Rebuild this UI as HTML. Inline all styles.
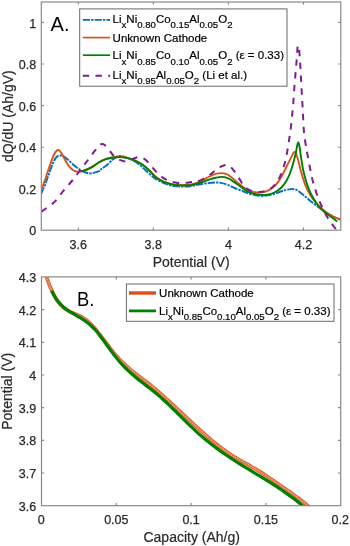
<!DOCTYPE html>
<html><head><meta charset="utf-8"><title>Figure</title>
<style>html,body{margin:0;padding:0;background:#fff}svg{display:block;will-change:transform}</style></head>
<body>
<svg width="350" height="546" viewBox="0 0 350 546" font-family="'Liberation Sans', sans-serif">
<rect width="350" height="546" fill="#fff"/>
<defs><clipPath id="c1"><rect x="41.3" y="2.0" width="299.5" height="228.2"/></clipPath>
<clipPath id="c2"><rect x="41.5" y="276.9" width="299.2" height="228.8"/></clipPath></defs>
<g clip-path="url(#c1)" fill="none" stroke-linejoin="round">
<path d="M41.00 194.00C41.68 192.43 43.70 188.17 45.10 184.60C46.50 181.03 47.97 176.47 49.40 172.60C50.83 168.73 52.42 164.07 53.70 161.40C54.98 158.73 55.95 157.60 57.10 156.60C58.25 155.60 59.45 155.40 60.60 155.40C61.75 155.40 62.72 155.83 64.00 156.60C65.28 157.37 66.58 158.50 68.30 160.00C70.02 161.50 72.30 163.93 74.30 165.60C76.30 167.27 78.30 168.80 80.30 170.00C82.30 171.20 84.45 172.25 86.30 172.80C88.15 173.35 89.27 173.57 91.40 173.30C93.53 173.03 97.35 171.98 99.10 171.20C100.85 170.42 100.58 169.62 101.90 168.60C103.22 167.58 105.30 166.53 107.00 165.10C108.70 163.67 110.53 161.33 112.10 160.00C113.67 158.67 114.97 157.78 116.40 157.10C117.83 156.42 118.55 155.65 120.70 155.90C122.85 156.15 126.43 157.35 129.30 158.60C132.17 159.85 135.33 161.60 137.90 163.40C140.47 165.20 142.13 167.12 144.70 169.40C147.27 171.68 150.65 175.08 153.30 177.10C155.95 179.12 158.25 180.28 160.60 181.50C162.95 182.72 165.12 183.63 167.40 184.40C169.68 185.17 171.72 185.73 174.30 186.10C176.88 186.47 180.28 186.57 182.90 186.60C185.52 186.63 187.38 186.63 190.00 186.30C192.62 185.97 195.75 185.12 198.60 184.60C201.45 184.08 204.25 183.55 207.10 183.20C209.95 182.85 213.40 182.55 215.70 182.50C218.00 182.45 218.90 182.50 220.90 182.90C222.90 183.30 225.42 184.05 227.70 184.90C229.98 185.75 232.32 187.05 234.60 188.00C236.88 188.95 239.35 189.78 241.40 190.60C243.45 191.42 244.85 192.18 246.90 192.90C248.95 193.62 251.13 194.40 253.70 194.90C256.27 195.40 259.43 195.90 262.30 195.90C265.17 195.90 268.05 195.55 270.90 194.90C273.75 194.25 276.83 192.85 279.40 192.00C281.97 191.15 284.30 190.28 286.30 189.80C288.30 189.32 289.68 189.10 291.40 189.10C293.12 189.10 294.82 188.98 296.60 189.80C298.38 190.62 300.32 192.58 302.10 194.00C303.88 195.42 305.58 196.87 307.30 198.30C309.02 199.73 310.40 201.03 312.40 202.60C314.40 204.17 317.30 206.28 319.30 207.70C321.30 209.12 322.68 209.95 324.40 211.10C326.12 212.25 327.60 213.45 329.60 214.60C331.60 215.75 334.55 217.15 336.40 218.00C338.25 218.85 339.98 219.42 340.70 219.70" stroke="#0072bd" stroke-width="1.95" stroke-dasharray="7.2 1.1 2.4 1.1"/>
<path d="M41.00 190.50C41.55 189.08 43.03 185.57 44.30 182.00C45.57 178.43 47.17 173.25 48.60 169.10C50.03 164.95 51.73 159.97 52.90 157.10C54.07 154.23 54.75 153.08 55.60 151.90C56.45 150.72 57.18 150.02 58.00 150.00C58.82 149.98 59.50 150.47 60.50 151.80C61.50 153.13 62.70 155.77 64.00 158.00C65.30 160.23 66.87 163.23 68.30 165.20C69.73 167.17 71.17 168.73 72.60 169.80C74.03 170.87 75.62 171.32 76.90 171.60C78.18 171.88 79.02 171.68 80.30 171.50C81.58 171.32 82.75 171.18 84.60 170.50C86.45 169.82 88.98 168.77 91.40 167.40C93.82 166.03 96.78 163.67 99.10 162.30C101.42 160.93 103.13 160.02 105.30 159.20C107.47 158.38 109.53 157.85 112.10 157.40C114.67 156.95 117.83 156.35 120.70 156.50C123.57 156.65 126.73 157.55 129.30 158.30C131.87 159.05 133.82 159.87 136.10 161.00C138.38 162.13 140.70 163.42 143.00 165.10C145.30 166.78 147.83 169.20 149.90 171.10C151.97 173.00 153.62 175.02 155.40 176.50C157.18 177.98 158.60 178.92 160.60 180.00C162.60 181.08 165.12 182.22 167.40 183.00C169.68 183.78 172.02 184.33 174.30 184.70C176.58 185.07 178.48 185.20 181.10 185.20C183.72 185.20 187.37 185.08 190.00 184.70C192.63 184.32 194.62 183.78 196.90 182.90C199.18 182.02 201.42 180.55 203.70 179.40C205.98 178.25 208.60 176.92 210.60 176.00C212.60 175.08 213.98 174.38 215.70 173.90C217.42 173.42 219.18 173.10 220.90 173.10C222.62 173.10 224.30 173.27 226.00 173.90C227.70 174.53 229.10 175.40 231.10 176.90C233.10 178.40 235.70 181.02 238.00 182.90C240.30 184.78 242.85 186.83 244.90 188.20C246.95 189.57 248.27 190.38 250.30 191.10C252.33 191.82 255.10 192.30 257.10 192.50C259.10 192.70 260.58 192.58 262.30 192.30C264.02 192.02 265.68 191.57 267.40 190.80C269.12 190.03 270.88 189.07 272.60 187.70C274.32 186.33 275.98 184.88 277.70 182.60C279.42 180.32 281.18 177.15 282.90 174.00C284.62 170.85 286.58 166.55 288.00 163.70C289.42 160.85 290.42 158.80 291.40 156.90C292.38 155.00 293.12 152.83 293.90 152.30C294.68 151.77 295.30 152.03 296.10 153.70C296.90 155.37 297.83 159.15 298.70 162.30C299.57 165.45 300.43 169.47 301.30 172.60C302.17 175.73 302.90 178.25 303.90 181.10C304.90 183.95 306.17 187.27 307.30 189.70C308.43 192.13 309.27 193.55 310.70 195.70C312.13 197.85 313.90 200.32 315.90 202.60C317.90 204.88 320.42 207.40 322.70 209.40C324.98 211.40 327.32 213.17 329.60 214.60C331.88 216.03 334.55 217.15 336.40 218.00C338.25 218.85 339.98 219.42 340.70 219.70" stroke="#d95319" stroke-width="1.9"/>
<path d="M81.00 171.30C81.60 171.17 82.87 171.15 84.60 170.50C86.33 169.85 88.98 168.77 91.40 167.40C93.82 166.03 96.78 163.63 99.10 162.30C101.42 160.97 103.13 160.15 105.30 159.40C107.47 158.65 109.53 158.18 112.10 157.80C114.67 157.42 117.83 156.95 120.70 157.10C123.57 157.25 126.73 158.03 129.30 158.70C131.87 159.37 133.82 160.03 136.10 161.10C138.38 162.17 140.70 163.43 143.00 165.10C145.30 166.77 147.83 169.13 149.90 171.10C151.97 173.07 153.62 175.37 155.40 176.90C157.18 178.43 158.60 179.25 160.60 180.30C162.60 181.35 165.12 182.43 167.40 183.20C169.68 183.97 172.02 184.53 174.30 184.90C176.58 185.27 178.48 185.32 181.10 185.40C183.72 185.48 187.37 185.68 190.00 185.40C192.63 185.12 194.62 184.35 196.90 183.70C199.18 183.05 201.42 182.27 203.70 181.50C205.98 180.73 208.60 179.73 210.60 179.10C212.60 178.47 213.85 178.07 215.70 177.70C217.55 177.33 219.70 176.83 221.70 176.90C223.70 176.97 225.83 177.40 227.70 178.10C229.57 178.80 230.90 179.80 232.90 181.10C234.90 182.40 237.37 184.23 239.70 185.90C242.03 187.57 244.57 189.80 246.90 191.10C249.23 192.40 251.42 193.07 253.70 193.70C255.98 194.33 258.32 194.75 260.60 194.90C262.88 195.05 265.12 195.00 267.40 194.60C269.68 194.20 272.02 193.65 274.30 192.50C276.58 191.35 279.10 189.63 281.10 187.70C283.10 185.77 284.87 183.18 286.30 180.90C287.73 178.62 288.57 176.87 289.70 174.00C290.83 171.13 292.10 167.13 293.10 163.70C294.10 160.27 295.02 156.43 295.70 153.40C296.38 150.37 296.77 147.35 297.20 145.50C297.63 143.65 297.95 142.30 298.30 142.30C298.65 142.30 299.00 144.17 299.30 145.50C299.60 146.83 299.77 148.07 300.10 150.30C300.43 152.53 300.82 155.77 301.30 158.90C301.78 162.03 302.28 165.68 303.00 169.10C303.72 172.52 304.60 175.97 305.60 179.40C306.60 182.83 307.72 186.55 309.00 189.70C310.28 192.85 311.73 195.58 313.30 198.30C314.87 201.02 316.55 203.72 318.40 206.00C320.25 208.28 322.25 210.15 324.40 212.00C326.55 213.85 329.18 215.53 331.30 217.10C333.42 218.67 336.13 220.68 337.10 221.40" stroke="#008000" stroke-width="1.9"/>
<path d="M41.50 211.70C42.27 211.13 44.33 209.58 46.10 208.30C47.87 207.02 50.23 205.57 52.10 204.00C53.97 202.43 55.58 200.90 57.30 198.90C59.02 196.90 60.68 194.15 62.40 192.00C64.12 189.85 65.88 188.00 67.60 186.00C69.32 184.00 70.63 182.58 72.70 180.00C74.77 177.42 77.45 173.83 80.00 170.50C82.55 167.17 85.50 163.32 88.00 160.00C90.50 156.68 93.12 153.03 95.00 150.60C96.88 148.17 98.02 146.48 99.30 145.40C100.58 144.32 101.42 143.82 102.70 144.10C103.98 144.38 105.43 145.45 107.00 147.10C108.57 148.75 110.67 152.28 112.10 154.00C113.53 155.72 113.88 156.25 115.60 157.40C117.32 158.55 120.40 160.27 122.40 160.90C124.40 161.53 125.60 161.63 127.60 161.20C129.60 160.77 132.40 158.98 134.40 158.30C136.40 157.62 137.88 156.97 139.60 157.10C141.32 157.23 142.98 157.90 144.70 159.10C146.42 160.30 148.12 162.33 149.90 164.30C151.68 166.27 153.62 168.95 155.40 170.90C157.18 172.85 158.88 174.58 160.60 176.00C162.32 177.42 163.98 178.48 165.70 179.40C167.42 180.32 168.90 180.92 170.90 181.50C172.90 182.08 175.42 182.67 177.70 182.90C179.98 183.13 182.32 183.05 184.60 182.90C186.88 182.75 189.35 182.20 191.40 182.00C193.45 181.80 194.85 182.27 196.90 181.70C198.95 181.13 201.42 179.83 203.70 178.60C205.98 177.37 208.60 175.73 210.60 174.30C212.60 172.87 213.98 171.28 215.70 170.00C217.42 168.72 219.18 167.45 220.90 166.60C222.62 165.75 224.43 164.90 226.00 164.90C227.57 164.90 228.87 165.47 230.30 166.60C231.73 167.73 233.03 169.57 234.60 171.70C236.17 173.83 238.23 177.17 239.70 179.40C241.17 181.63 242.07 183.48 243.40 185.10C244.73 186.72 245.98 188.03 247.70 189.10C249.42 190.17 251.70 191.02 253.70 191.50C255.70 191.98 257.70 192.12 259.70 192.00C261.70 191.88 263.70 191.52 265.70 190.80C267.70 190.08 269.83 189.07 271.70 187.70C273.57 186.33 275.33 184.88 276.90 182.60C278.47 180.32 279.82 177.15 281.10 174.00C282.38 170.85 283.68 166.85 284.60 163.70C285.52 160.55 285.88 158.87 286.60 155.10C287.32 151.33 288.18 145.72 288.90 141.10C289.62 136.48 290.33 131.97 290.90 127.40C291.47 122.83 291.90 117.77 292.30 113.70C292.70 109.63 292.97 107.23 293.30 103.00C293.63 98.77 293.95 93.03 294.30 88.30C294.65 83.57 295.02 79.17 295.40 74.60C295.78 70.03 296.27 65.17 296.60 60.90C296.93 56.63 297.18 51.58 297.40 49.00C297.62 46.42 297.72 45.90 297.90 45.40C298.08 44.90 298.30 45.32 298.50 46.00C298.70 46.68 298.85 47.02 299.10 49.50C299.35 51.98 299.70 56.43 300.00 60.90C300.30 65.37 300.62 71.17 300.90 76.30C301.18 81.43 301.42 86.57 301.70 91.70C301.98 96.83 302.23 100.57 302.60 107.10C302.97 113.63 303.38 124.65 303.90 130.90C304.42 137.15 305.13 140.80 305.70 144.60C306.27 148.40 306.60 149.90 307.30 153.70C308.00 157.50 309.05 163.12 309.90 167.40C310.75 171.68 311.40 175.40 312.40 179.40C313.40 183.40 314.75 187.82 315.90 191.40C317.05 194.98 318.02 197.75 319.30 200.90C320.58 204.05 322.05 207.23 323.60 210.30C325.15 213.37 326.82 216.50 328.60 219.30C330.38 222.10 332.83 225.25 334.30 227.10C335.77 228.95 336.88 229.85 337.40 230.40" stroke="#7e1e90" stroke-width="2" stroke-dasharray="6.4 6.4"/>
</g>
<g stroke="#858585" stroke-width="1.15" fill="none">
<rect x="41.3" y="2.0" width="299.5" height="228.2"/>
<path d="M78.3 230.2v-2.6M78.3 2.0v2.6"/>
<path d="M153.3 230.2v-2.6M153.3 2.0v2.6"/>
<path d="M228.4 230.2v-2.6M228.4 2.0v2.6"/>
<path d="M303.4 230.2v-2.6M303.4 2.0v2.6"/>
<path d="M41.3 22.3h2.6M340.8 22.3h-2.6"/>
<path d="M41.3 64.0h2.6M340.8 64.0h-2.6"/>
<path d="M41.3 105.6h2.6M340.8 105.6h-2.6"/>
<path d="M41.3 147.2h2.6M340.8 147.2h-2.6"/>
<path d="M41.3 188.9h2.6M340.8 188.9h-2.6"/>
</g>
<g fill="#2a2a2a" stroke="#2a2a2a" stroke-width="0.25" font-size="12.5px">
<text x="78.3" y="248.6" text-anchor="middle">3.6</text>
<text x="153.3" y="248.6" text-anchor="middle">3.8</text>
<text x="228.4" y="248.6" text-anchor="middle">4</text>
<text x="303.4" y="248.6" text-anchor="middle">4.2</text>
<text x="36.2" y="27.5" text-anchor="end">1</text>
<text x="36.2" y="69.2" text-anchor="end">0.8</text>
<text x="36.2" y="110.8" text-anchor="end">0.6</text>
<text x="36.2" y="152.4" text-anchor="end">0.4</text>
<text x="36.2" y="194.1" text-anchor="end">0.2</text>
<text x="36.2" y="235.4" text-anchor="end">0</text>
</g>
<text x="191.2" y="266.8" font-size="14px" stroke="#2a2a2a" stroke-width="0.2" fill="#2a2a2a" text-anchor="middle">Potential (V)</text>
<text transform="translate(12.6 116.2) rotate(-90)" font-size="14px" stroke="#2a2a2a" stroke-width="0.2" fill="#2a2a2a" text-anchor="middle">dQ/dU (Ah/gV)</text>
<text x="50.6" y="31.2" font-size="20px" fill="#000">A.</text>
<rect x="79.7" y="8.9" width="207.3" height="77.3" fill="#fff" stroke="#686868" stroke-width="1"/>
<g fill="none">
<path d="M82.8 19.9H110" stroke="#0072bd" stroke-width="1.8" stroke-dasharray="7.2 1.1 2.4 1.1"/>
<path d="M82.8 37.6H110" stroke="#d95319" stroke-width="1.7"/>
<path d="M82.8 55.2H110" stroke="#008000" stroke-width="1.7"/>
<path d="M82.8 75.8H110.2" stroke="#7e1e90" stroke-width="2" stroke-dasharray="6.4 6.3"/>
</g>
<g fill="#000" stroke="#000" stroke-width="0.2" font-size="11.5px">
<text x="112.6" y="22.6">Li<tspan dy="5.2" font-size="9.6px">x</tspan><tspan dy="-5.2" font-size="9.6px">&#8203;</tspan>Ni<tspan dy="5.2" font-size="9.6px">0.80</tspan><tspan dy="-5.2" font-size="9.6px">&#8203;</tspan>Co<tspan dy="5.2" font-size="9.6px">0.15</tspan><tspan dy="-5.2" font-size="9.6px">&#8203;</tspan>Al<tspan dy="5.2" font-size="9.6px">0.05</tspan><tspan dy="-5.2" font-size="9.6px">&#8203;</tspan>O<tspan dy="5.2" font-size="9.6px">2</tspan><tspan dy="-5.2" font-size="9.6px">&#8203;</tspan></text>
<text x="112.6" y="42.1">Unknown Cathode</text>
<text x="112.6" y="59.4">Li<tspan dy="5.2" font-size="9.6px">x</tspan><tspan dy="-5.2" font-size="9.6px">&#8203;</tspan>Ni<tspan dy="5.2" font-size="9.6px">0.85</tspan><tspan dy="-5.2" font-size="9.6px">&#8203;</tspan>Co<tspan dy="5.2" font-size="9.6px">0.10</tspan><tspan dy="-5.2" font-size="9.6px">&#8203;</tspan>Al<tspan dy="5.2" font-size="9.6px">0.05</tspan><tspan dy="-5.2" font-size="9.6px">&#8203;</tspan>O<tspan dy="5.2" font-size="9.6px">2</tspan><tspan dy="-5.2" font-size="9.6px">&#8203;</tspan> (ε = 0.33)</text>
<text x="112.6" y="78.9">Li<tspan dy="5.2" font-size="9.6px">x</tspan><tspan dy="-5.2" font-size="9.6px">&#8203;</tspan>Ni<tspan dy="5.2" font-size="9.6px">0.95</tspan><tspan dy="-5.2" font-size="9.6px">&#8203;</tspan>Al<tspan dy="5.2" font-size="9.6px">0.05</tspan><tspan dy="-5.2" font-size="9.6px">&#8203;</tspan>O<tspan dy="5.2" font-size="9.6px">2</tspan><tspan dy="-5.2" font-size="9.6px">&#8203;</tspan> (Li et al.)</text>
</g>
<g clip-path="url(#c2)" fill="none" stroke-linejoin="round">
<path d="M46.30 276.49C46.97 278.28 48.97 284.05 50.30 287.22C51.63 290.40 52.97 293.11 54.30 295.54C55.63 297.96 56.97 299.99 58.30 301.79C59.63 303.60 60.97 305.06 62.30 306.35C63.63 307.65 64.97 308.66 66.30 309.59C67.63 310.51 68.97 311.21 70.30 311.89C71.63 312.57 72.97 313.10 74.30 313.67C75.63 314.24 76.97 314.73 78.30 315.34C79.63 315.94 80.97 316.53 82.30 317.30C83.63 318.07 84.97 318.92 86.30 319.96C87.63 321.00 88.97 322.21 90.30 323.52C91.63 324.83 92.97 326.29 94.30 327.81C95.63 329.33 96.97 330.97 98.30 332.64C99.63 334.31 100.97 336.06 102.30 337.81C103.63 339.55 104.97 341.36 106.30 343.12C107.63 344.88 108.97 346.67 110.30 348.38C111.63 350.09 112.97 351.79 114.30 353.38C115.63 354.98 116.97 356.51 118.30 357.96C119.63 359.41 120.97 360.78 122.30 362.09C123.63 363.41 124.97 364.65 126.30 365.86C127.63 367.06 128.97 368.21 130.30 369.33C131.63 370.45 132.97 371.52 134.30 372.59C135.63 373.65 136.97 374.68 138.30 375.71C139.63 376.73 140.97 377.74 142.30 378.76C143.63 379.78 144.97 380.79 146.30 381.83C147.63 382.87 148.97 383.92 150.30 384.99C151.63 386.07 152.97 387.17 154.30 388.28C155.63 389.40 156.97 390.53 158.30 391.68C159.63 392.83 160.97 394.00 162.30 395.18C163.63 396.36 164.97 397.55 166.30 398.76C167.63 399.96 168.97 401.18 170.30 402.40C171.63 403.63 172.97 404.86 174.30 406.10C175.63 407.34 176.97 408.58 178.30 409.83C179.63 411.08 180.97 412.33 182.30 413.58C183.63 414.83 184.97 416.08 186.30 417.33C187.63 418.58 188.97 419.83 190.30 421.07C191.63 422.31 192.97 423.55 194.30 424.78C195.63 426.01 196.97 427.24 198.30 428.45C199.63 429.66 200.97 430.87 202.30 432.06C203.63 433.25 204.97 434.43 206.30 435.59C207.63 436.75 208.97 437.90 210.30 439.03C211.63 440.16 212.97 441.27 214.30 442.36C215.63 443.45 216.97 444.52 218.30 445.57C219.63 446.62 220.97 447.64 222.30 448.64C223.63 449.64 224.97 450.61 226.30 451.56C227.63 452.50 228.97 453.42 230.30 454.30C231.63 455.19 232.97 456.04 234.30 456.87C235.63 457.69 236.97 458.48 238.30 459.26C239.63 460.03 240.97 460.78 242.30 461.53C243.63 462.28 244.97 463.01 246.30 463.74C247.63 464.48 248.97 465.21 250.30 465.96C251.63 466.71 252.97 467.46 254.30 468.24C255.63 469.02 256.97 469.81 258.30 470.63C259.63 471.46 260.97 472.31 262.30 473.17C263.63 474.04 264.97 474.93 266.30 475.82C267.63 476.71 268.97 477.62 270.30 478.53C271.63 479.43 272.97 480.35 274.30 481.26C275.63 482.17 276.97 483.08 278.30 483.99C279.63 484.89 280.97 485.80 282.30 486.71C283.63 487.63 284.97 488.54 286.30 489.47C287.63 490.39 288.97 491.32 290.30 492.27C291.63 493.21 292.97 494.16 294.30 495.14C295.63 496.11 296.97 497.09 298.30 498.09C299.63 499.10 300.97 500.12 302.30 501.17C303.63 502.21 304.97 503.28 306.30 504.37C307.63 505.46 309.52 507.07 310.30 507.73C311.08 508.39 310.88 508.24 311.00 508.34" stroke="#dd632c" stroke-width="3.7"/>
<path d="M46.30 276.49C46.97 278.28 48.97 284.05 50.30 287.22C51.63 290.40 52.97 293.11 54.30 295.54C55.63 297.96 56.97 299.99 58.30 301.79C59.63 303.60 60.97 305.06 62.30 306.35C63.63 307.65 64.97 308.66 66.30 309.59C67.63 310.51 68.97 311.21 70.30 311.89C71.63 312.57 72.97 313.10 74.30 313.67C75.63 314.24 76.97 314.73 78.30 315.34C79.63 315.94 80.97 316.53 82.30 317.30C83.63 318.07 84.97 318.92 86.30 319.96C87.63 321.00 88.97 322.21 90.30 323.52C91.63 324.83 92.97 326.29 94.30 327.81C95.63 329.33 96.97 330.97 98.30 332.64C99.63 334.31 100.97 336.06 102.30 337.81C103.63 339.55 104.97 341.36 106.30 343.12C107.63 344.88 108.97 346.67 110.30 348.38C111.63 350.09 112.97 351.79 114.30 353.38C115.63 354.98 116.97 356.51 118.30 357.96C119.63 359.41 120.97 360.78 122.30 362.09C123.63 363.41 124.97 364.65 126.30 365.86C127.63 367.06 128.97 368.21 130.30 369.33C131.63 370.45 132.97 371.52 134.30 372.59C135.63 373.65 136.97 374.68 138.30 375.71C139.63 376.73 140.97 377.74 142.30 378.76C143.63 379.78 144.97 380.79 146.30 381.83C147.63 382.87 148.97 383.92 150.30 384.99C151.63 386.07 152.97 387.17 154.30 388.28C155.63 389.40 156.97 390.53 158.30 391.68C159.63 392.83 160.97 394.00 162.30 395.18C163.63 396.36 164.97 397.55 166.30 398.76C167.63 399.96 168.97 401.18 170.30 402.40C171.63 403.63 172.97 404.86 174.30 406.10C175.63 407.34 176.97 408.58 178.30 409.83C179.63 411.08 180.97 412.33 182.30 413.58C183.63 414.83 184.97 416.08 186.30 417.33C187.63 418.58 188.97 419.83 190.30 421.07C191.63 422.31 192.97 423.55 194.30 424.78C195.63 426.01 196.97 427.24 198.30 428.45C199.63 429.66 200.97 430.87 202.30 432.06C203.63 433.25 204.97 434.43 206.30 435.59C207.63 436.75 208.97 437.90 210.30 439.03C211.63 440.16 212.97 441.27 214.30 442.36C215.63 443.45 216.97 444.52 218.30 445.57C219.63 446.62 220.97 447.64 222.30 448.64C223.63 449.64 224.97 450.61 226.30 451.56C227.63 452.50 228.97 453.42 230.30 454.30C231.63 455.19 232.97 456.04 234.30 456.87C235.63 457.69 236.97 458.48 238.30 459.26C239.63 460.03 240.97 460.78 242.30 461.53C243.63 462.28 244.97 463.01 246.30 463.74C247.63 464.48 248.97 465.21 250.30 465.96C251.63 466.71 252.97 467.46 254.30 468.24C255.63 469.02 256.97 469.81 258.30 470.63C259.63 471.46 260.97 472.31 262.30 473.17C263.63 474.04 264.97 474.93 266.30 475.82C267.63 476.71 268.97 477.62 270.30 478.53C271.63 479.43 272.97 480.35 274.30 481.26C275.63 482.17 276.97 483.08 278.30 483.99C279.63 484.89 280.97 485.80 282.30 486.71C283.63 487.63 284.97 488.54 286.30 489.47C287.63 490.39 288.97 491.32 290.30 492.27C291.63 493.21 292.97 494.16 294.30 495.14C295.63 496.11 296.97 497.09 298.30 498.09C299.63 499.10 300.97 500.12 302.30 501.17C303.63 502.21 304.97 503.28 306.30 504.37C307.63 505.46 309.52 507.07 310.30 507.73C311.08 508.39 310.88 508.24 311.00 508.34" stroke="#eea180" stroke-width="1.7" stroke-dasharray="1.7 0.8"/>
<path d="M51.60 290.90C52.27 292.09 54.27 295.95 55.60 298.02C56.93 300.09 58.27 301.79 59.60 303.32C60.93 304.85 62.27 306.08 63.60 307.23C64.93 308.38 66.27 309.30 67.60 310.21C68.93 311.12 70.27 311.90 71.60 312.70C72.93 313.51 74.27 314.25 75.60 315.03C76.93 315.81 78.27 316.57 79.60 317.38C80.93 318.20 82.27 319.01 83.60 319.92C84.93 320.82 86.27 321.76 87.60 322.80C88.93 323.85 90.27 324.96 91.60 326.21C92.93 327.46 94.27 328.82 95.60 330.30C96.93 331.79 98.27 333.44 99.60 335.14C100.93 336.83 102.27 338.66 103.60 340.48C104.93 342.30 106.27 344.20 107.60 346.06C108.93 347.91 110.27 349.81 111.60 351.61C112.93 353.42 114.27 355.19 115.60 356.87C116.93 358.55 118.27 360.15 119.60 361.69C120.93 363.22 122.27 364.68 123.60 366.09C124.93 367.49 126.27 368.82 127.60 370.11C128.93 371.39 130.27 372.61 131.60 373.80C132.93 374.98 134.27 376.11 135.60 377.22C136.93 378.34 138.27 379.40 139.60 380.46C140.93 381.52 142.27 382.55 143.60 383.58C144.93 384.61 146.27 385.63 147.60 386.66C148.93 387.69 150.27 388.71 151.60 389.77C152.93 390.82 154.27 391.88 155.60 392.98C156.93 394.09 158.27 395.22 159.60 396.38C160.93 397.54 162.27 398.74 163.60 399.96C164.93 401.17 166.27 402.42 167.60 403.69C168.93 404.95 170.27 406.23 171.60 407.53C172.93 408.82 174.27 410.14 175.60 411.45C176.93 412.76 178.27 414.09 179.60 415.41C180.93 416.73 182.27 418.06 183.60 419.38C184.93 420.70 186.27 422.01 187.60 423.32C188.93 424.62 190.27 425.91 191.60 427.18C192.93 428.46 194.27 429.72 195.60 430.95C196.93 432.18 198.27 433.39 199.60 434.58C200.93 435.76 202.27 436.91 203.60 438.04C204.93 439.17 206.27 440.27 207.60 441.35C208.93 442.43 210.27 443.49 211.60 444.52C212.93 445.56 214.27 446.57 215.60 447.57C216.93 448.56 218.27 449.54 219.60 450.49C220.93 451.45 222.27 452.39 223.60 453.32C224.93 454.24 226.27 455.15 227.60 456.05C228.93 456.94 230.27 457.82 231.60 458.69C232.93 459.56 234.27 460.42 235.60 461.27C236.93 462.12 238.27 462.96 239.60 463.79C240.93 464.63 242.27 465.45 243.60 466.27C244.93 467.09 246.27 467.90 247.60 468.71C248.93 469.52 250.27 470.33 251.60 471.13C252.93 471.94 254.27 472.74 255.60 473.55C256.93 474.35 258.27 475.16 259.60 475.97C260.93 476.78 262.27 477.59 263.60 478.40C264.93 479.22 266.27 480.04 267.60 480.87C268.93 481.70 270.27 482.54 271.60 483.38C272.93 484.23 274.27 485.08 275.60 485.95C276.93 486.82 278.27 487.70 279.60 488.59C280.93 489.48 282.27 490.39 283.60 491.31C284.93 492.23 286.27 493.17 287.60 494.12C288.93 495.08 290.27 496.05 291.60 497.04C292.93 498.04 294.27 499.05 295.60 500.08C296.93 501.12 298.27 502.18 299.60 503.26C300.93 504.34 302.53 505.68 303.60 506.58C304.67 507.48 305.60 508.30 306.00 508.65" stroke="#008000" stroke-width="3.2"/>
</g>
<g stroke="#858585" stroke-width="1.15" fill="none">
<rect x="41.5" y="276.9" width="299.2" height="228.8"/>
<path d="M116.3 505.7v-2.6M116.3 276.9v2.6"/>
<path d="M191.1 505.7v-2.6M191.1 276.9v2.6"/>
<path d="M265.9 505.7v-2.6M265.9 276.9v2.6"/>
<path d="M41.5 309.6h2.6M340.7 309.6h-2.6"/>
<path d="M41.5 342.3h2.6M340.7 342.3h-2.6"/>
<path d="M41.5 375.0h2.6M340.7 375.0h-2.6"/>
<path d="M41.5 407.6h2.6M340.7 407.6h-2.6"/>
<path d="M41.5 440.3h2.6M340.7 440.3h-2.6"/>
<path d="M41.5 473.0h2.6M340.7 473.0h-2.6"/>
</g>
<g fill="#2a2a2a" stroke="#2a2a2a" stroke-width="0.25" font-size="12.5px">
<text x="41.2" y="524" text-anchor="middle">0</text>
<text x="116.3" y="524" text-anchor="middle">0.05</text>
<text x="191.1" y="524" text-anchor="middle">0.1</text>
<text x="265.9" y="524" text-anchor="middle">0.15</text>
<text x="340.3" y="524" text-anchor="middle">0.2</text>
<text x="36.2" y="281.8" text-anchor="end">4.3</text>
<text x="36.2" y="314.5" text-anchor="end">4.2</text>
<text x="36.2" y="347.2" text-anchor="end">4.1</text>
<text x="36.2" y="379.9" text-anchor="end">4</text>
<text x="36.2" y="412.5" text-anchor="end">3.9</text>
<text x="36.2" y="445.2" text-anchor="end">3.8</text>
<text x="36.2" y="477.9" text-anchor="end">3.7</text>
<text x="36.2" y="510.6" text-anchor="end">3.6</text>
</g>
<text x="191.7" y="541.7" font-size="14px" stroke="#2a2a2a" stroke-width="0.2" fill="#2a2a2a" text-anchor="middle">Capacity (Ah/g)</text>
<text transform="translate(12.1 391.3) rotate(-90)" font-size="14px" stroke="#2a2a2a" stroke-width="0.2" fill="#2a2a2a" text-anchor="middle">Potential (V)</text>
<text transform="translate(76.9 305.6) scale(0.92 1)" font-size="20px" fill="#000">B.</text>
<rect x="126.4" y="284" width="207.6" height="37.3" fill="#fff" stroke="#686868" stroke-width="1"/>
<path d="M129 293H156" stroke="#d9501a" stroke-width="3.4"/>
<path d="M129 310.9H156" stroke="#008000" stroke-width="2.8"/>
<g fill="#000" stroke="#000" stroke-width="0.2" font-size="11.5px">
<text x="159.1" y="297.4">Unknown Cathode</text>
<text x="159.1" y="314.7">Li<tspan dy="5.2" font-size="9.6px">x</tspan><tspan dy="-5.2" font-size="9.6px">&#8203;</tspan>Ni<tspan dy="5.2" font-size="9.6px">0.85</tspan><tspan dy="-5.2" font-size="9.6px">&#8203;</tspan>Co<tspan dy="5.2" font-size="9.6px">0.10</tspan><tspan dy="-5.2" font-size="9.6px">&#8203;</tspan>Al<tspan dy="5.2" font-size="9.6px">0.05</tspan><tspan dy="-5.2" font-size="9.6px">&#8203;</tspan>O<tspan dy="5.2" font-size="9.6px">2</tspan><tspan dy="-5.2" font-size="9.6px">&#8203;</tspan> (ε = 0.33)</text>
</g>
</svg>
</body></html>
